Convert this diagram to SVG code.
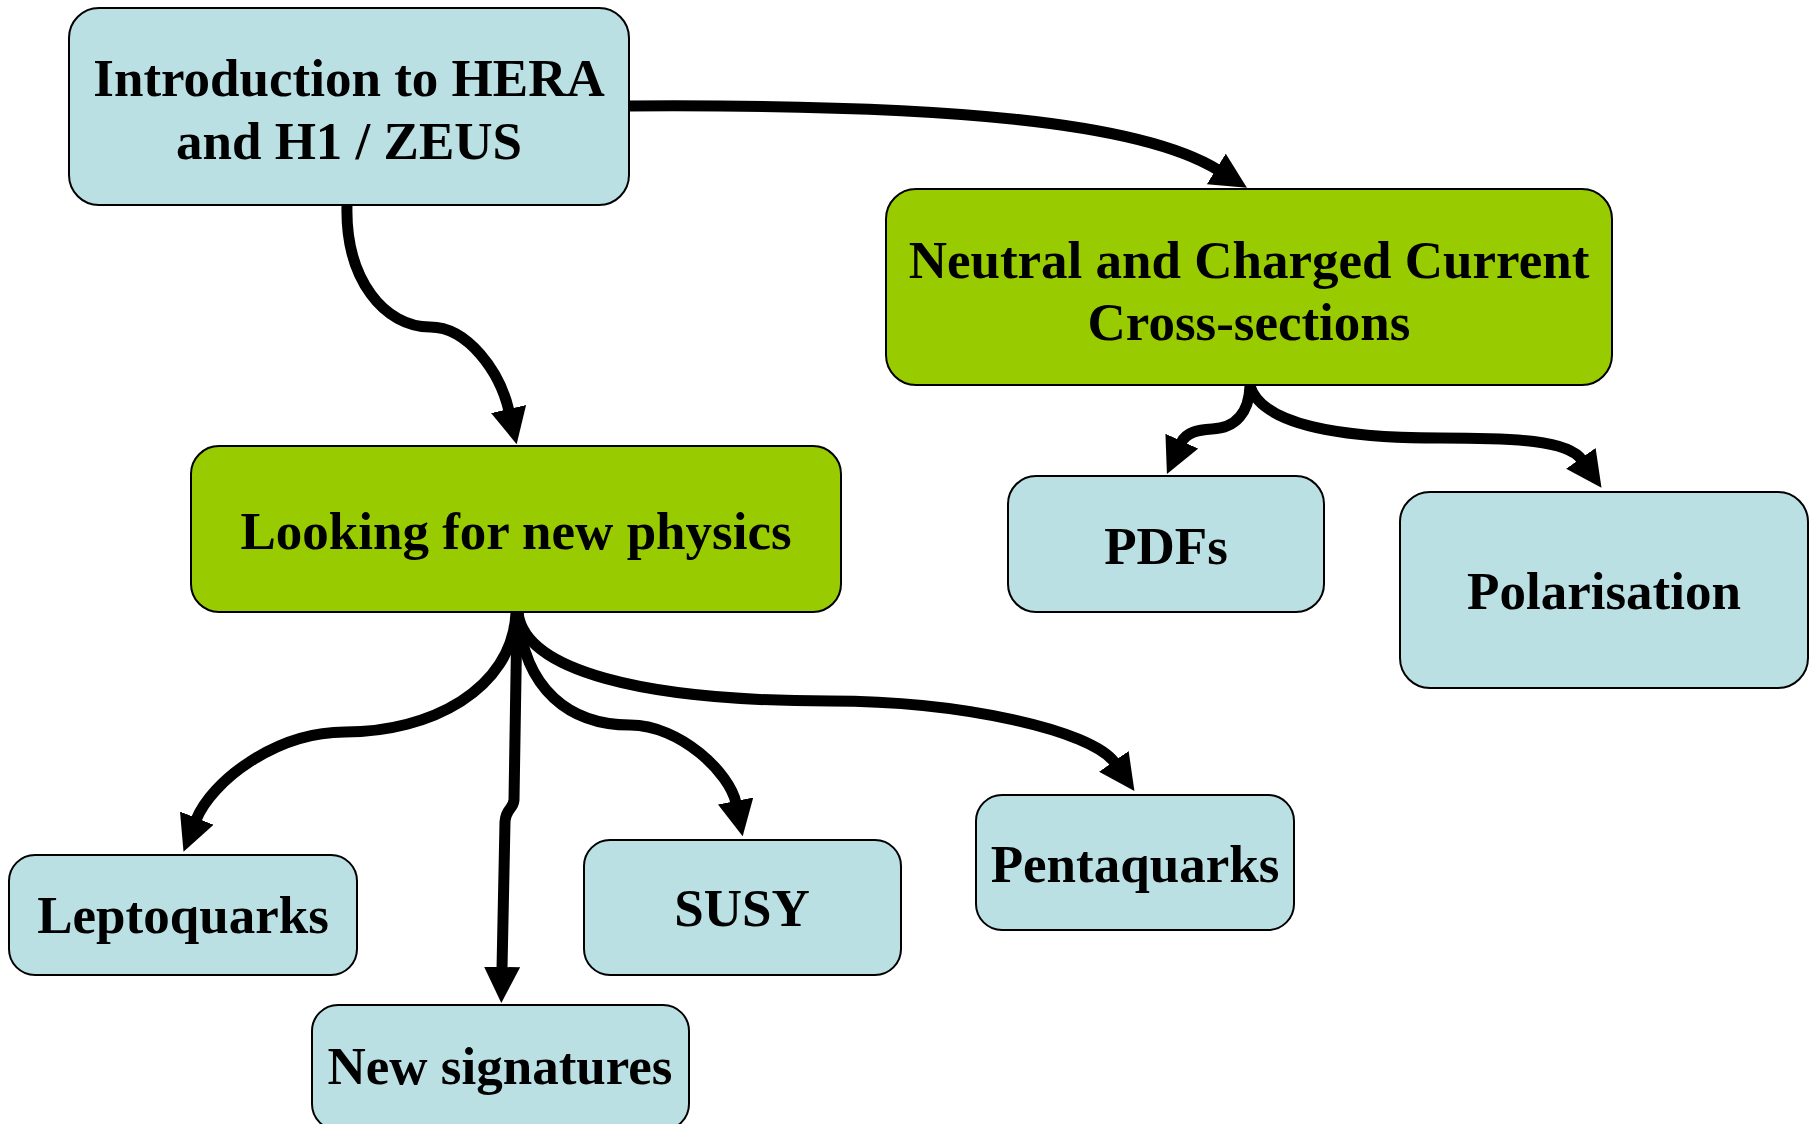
<svg xmlns="http://www.w3.org/2000/svg" width="1816" height="1124" viewBox="0 0 1816 1124">
<style>
.box{stroke:#000;stroke-width:2}
.blue{fill:#BBE0E3}
.green{fill:#99CC00}
.t{font-family:"Liberation Serif","Times New Roman",serif;font-weight:bold;font-size:53px;fill:#000;text-anchor:middle}
.c{fill:none;stroke:#000;stroke-width:11;stroke-linejoin:round}
</style>
<defs>
<marker id="arr" markerUnits="userSpaceOnUse" viewBox="0 0 36 36" markerWidth="36" markerHeight="36" refX="2" refY="18" orient="auto">
<path d="M0,0 L36,18 L0,36 z" fill="#000"/>
</marker>
</defs>
<rect width="1816" height="1124" fill="#fff"/>
<g id="n-intro">
<rect class="box blue" x="69" y="8" width="560" height="197" rx="30"/>
<text class="t" x="349" y="96">Introduction to HERA</text>
<text class="t" x="349" y="159">and H1 / ZEUS</text>
</g>
<g id="n-ncc">
<rect class="box green" x="886" y="189" width="726" height="196" rx="30"/>
<text class="t" x="1249" y="278">Neutral and Charged Current</text>
<text class="t" x="1249" y="340">Cross-sections</text>
</g>
<g id="n-looking">
<rect class="box green" x="191" y="446" width="650" height="166" rx="28"/>
<text class="t" x="516" y="549">Looking for new physics</text>
</g>
<g id="n-pdfs">
<rect class="box blue" x="1008" y="476" width="316" height="136" rx="28"/>
<text class="t" x="1166" y="564">PDFs</text>
</g>
<g id="n-pol">
<rect class="box blue" x="1400" y="492" width="408" height="196" rx="30"/>
<text class="t" x="1604" y="609">Polarisation</text>
</g>
<g id="n-lepto">
<rect class="box blue" x="9" y="855" width="348" height="120" rx="26"/>
<text class="t" x="183" y="933">Leptoquarks</text>
</g>
<g id="n-newsig">
<rect class="box blue" x="312" y="1005" width="377" height="125" rx="26"/>
<text class="t" x="500" y="1084">New signatures</text>
</g>
<g id="n-susy">
<rect class="box blue" x="584" y="840" width="317" height="135" rx="26"/>
<text class="t" x="742" y="926">SUSY</text>
</g>
<g id="n-penta">
<rect class="box blue" x="976" y="795" width="318" height="135" rx="26"/>
<text class="t" x="1135" y="882">Pentaquarks</text>
</g>
<g id="connectors">
<path class="c" marker-end="url(#arr)" d="M347,205 C345,280 385,327 430,327 C468,327 500,372 509,411"/>
<path class="c" marker-end="url(#arr)" d="M629,106 C950,104 1140,122 1218,170"/>
<path class="c" marker-end="url(#arr)" d="M1250,386 C1249,412 1236,428 1212,429 C1198,430 1186,432 1181,443"/>
<path class="c" marker-end="url(#arr)" d="M1250,386 C1262,425 1340,438 1440,438 C1515,438 1568,440 1582,460"/>
<path class="c" marker-end="url(#arr)" d="M516,613 C512,690 430,732 345,732 C275,732 211,782 196,820"/>
<path class="c" marker-end="url(#arr)" d="M517,613 L514,800 C513,810 506,808 505,822 L502,969"/>
<path class="c" marker-end="url(#arr)" d="M518,613 C524,690 570,725 630,725 C680,725 730,773 736,803"/>
<path class="c" marker-end="url(#arr)" d="M518,613 C525,670 640,701 830,701 C960,701 1092,730 1115,763"/>
</g>
</svg>
